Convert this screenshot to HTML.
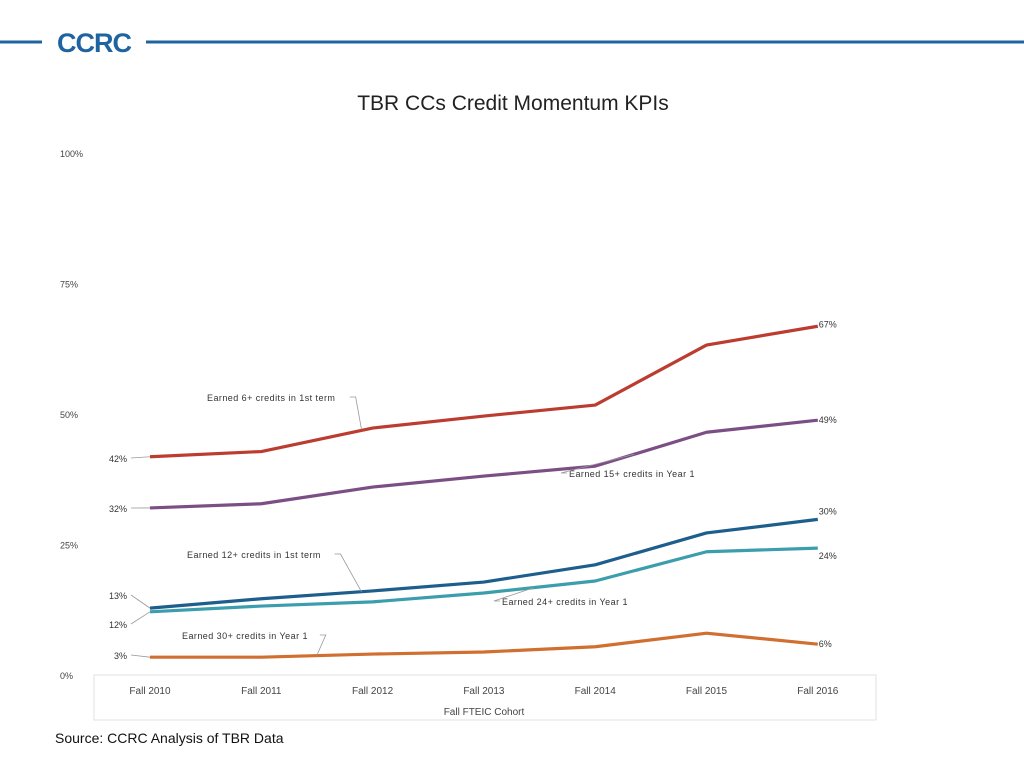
<!DOCTYPE html>
<html><head><meta charset="utf-8"><style>
body{margin:0;width:1024px;height:768px;background:#fff;overflow:hidden;font-family:"Liberation Sans",sans-serif;}
svg{position:absolute;left:0;top:0}
</style></head><body>
<svg id="c" width="1024" height="768">
<line x1="0" y1="42" x2="42" y2="42" stroke="#1f64a0" stroke-width="3"/>
<text x="57" y="52" font-size="27" font-weight="bold" fill="#1f64a0" letter-spacing="-1" font-family="Liberation Sans, sans-serif">CCRC</text>
<line x1="146" y1="42" x2="1024" y2="42" stroke="#1f64a0" stroke-width="3"/>
<text x="513" y="110" font-size="21" text-anchor="middle" fill="#222">TBR CCs Credit Momentum KPIs</text>
<rect x="94" y="675" width="782" height="45" fill="none" stroke="#e2e2e2"/>
<text x="484" y="715" font-size="10" text-anchor="middle" fill="#444">Fall FTEIC Cohort</text>
<text x="55" y="743" font-size="14" fill="#111">Source: CCRC Analysis of TBR Data</text>
<g id="g"></g>
</svg>
<script>
const categories=["Fall 2010","Fall 2011","Fall 2012","Fall 2013","Fall 2014","Fall 2015","Fall 2016"];
const yTicks=[0,25,50,75,100];
const s6=[42,43,47.5,49.8,51.9,63.4,67];
const s15=[32.2,33,36.2,38.3,40.2,46.7,49];
const s12=[13,14.8,16.3,18,21.3,27.4,30];
const s24=[12.3,13.4,14.2,15.9,18.2,23.8,24.5];
const s30=[3.6,3.6,4.2,4.6,5.6,8.2,6.1];
const names=["Earned 6+ credits in 1st term","Earned 15+ credits in Year 1","Earned 12+ credits in 1st term","Earned 24+ credits in Year 1","Earned 30+ credits in Year 1"];
const startLabels=["42%","32%","13%","12%","3%"];
const endLabels=["67%","49%","30%","24%","6%"];
const X=i=>150+i*111.3, Y=v=>676-v*5.22;
const g=document.getElementById('g'),NS="http://www.w3.org/2000/svg";
function mk(t,a,txt){const e=document.createElementNS(NS,t);for(const k in a)e.setAttribute(k,a[k]);if(txt!==undefined)e.textContent=txt;g.appendChild(e);return e;}
yTicks.forEach(v=>{const e=mk('text',{x:60,y:Y(v)+3,'font-size':9,fill:'#444'},v+'%');

});
categories.forEach((c,i)=>{const e=mk('text',{x:X(i),y:694,'font-size':10,'text-anchor':'middle',fill:'#444'},c);

});
const series=[s6,s15,s12,s24,s30];
const colors=["#bc3c30","#7b4f85","#1d5e8c","#3c9eac","#d06f30"];
const nameLab=[[207,401,2,-0.1],[569,477,4,0.35],[187,558,2,-0.1],[502,605,3,0.45],[182,639,2,-0.5]];
const startY=[462,512,599,628,659];
const endDy=[-2,0,-8,8,0];
series.forEach((s,k)=>{
 const p=mk('polyline',{points:s.map((v,i)=>X(i)+','+Y(v)).join(' '),fill:'none',stroke:colors[k],'stroke-width':3.2,'stroke-linejoin':'round'});
 
 
 const sy=startY[k];
 const l1=mk('line',{x1:131,y1:sy-4,x2:X(0),y2:Y(s[0]),stroke:'#999','stroke-width':0.8});
 
 
 const t1=mk('text',{x:127,y:sy,'font-size':9,'text-anchor':'end',fill:'#333'},startLabels[k]);
 
 
 const t2=mk('text',{x:X(6)+1,y:Y(s[6])+3+endDy[k],'font-size':9,fill:'#333'},endLabels[k]);
 
 
 const [nx,ny,ai,f]=nameLab[k];
 const t3=mk('text',{x:nx,y:ny,'font-size':9,fill:'#333','letter-spacing':0.45},names[k]);
 
 
 const w=names[k].length*4.85;
 const ax=X(ai)+f*111.3, ay=Y(s[ai]+f*(s[ai+1]-s[ai]));
 const l2=mk('polyline',{points:(k==1||k==3? (nx-2)+','+(ny-4)+' '+(nx-8)+','+(ny-4)+' '+ax+','+ay : (nx+w+2)+','+(ny-4)+' '+(nx+w+8)+','+(ny-4)+' '+ax+','+ay),fill:'none',stroke:'#999','stroke-width':0.8});
 
 
});
</script>
</body></html>
